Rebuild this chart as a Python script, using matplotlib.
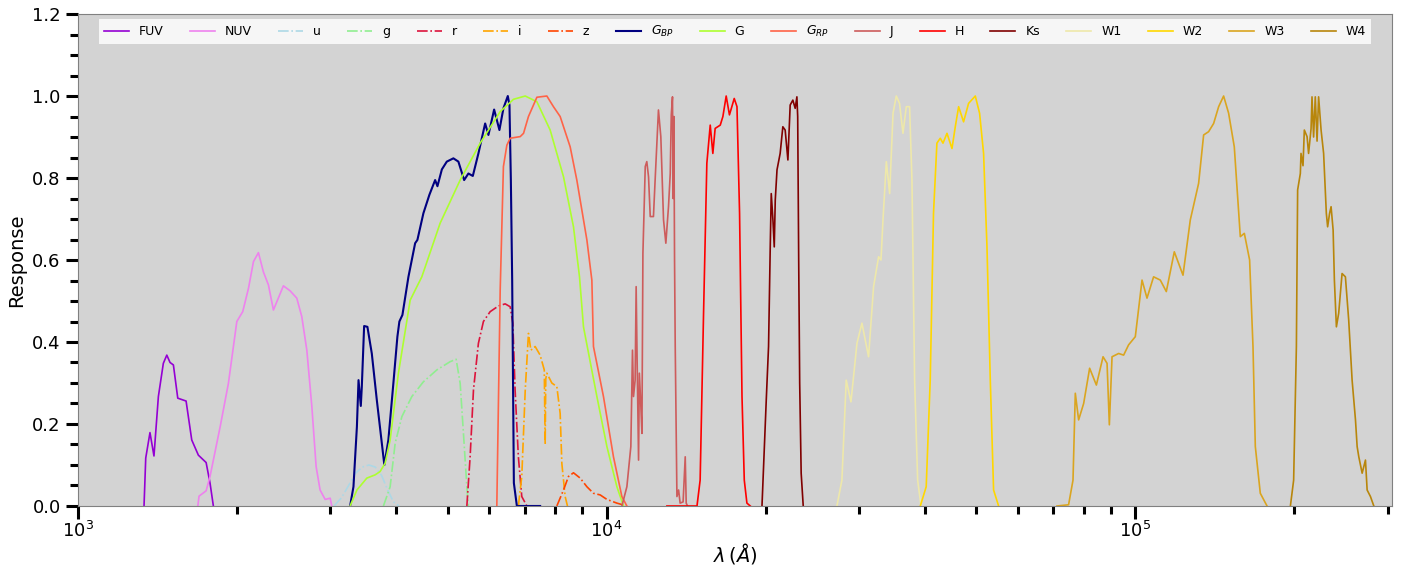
# -*- coding: utf-8 -*-
##=========================================================
# Filter transmission curves, UV to mid-IR
##=========================================================

import numpy as np
import matplotlib
matplotlib.use('Agg')
import matplotlib.pyplot as plt
import matplotlib.ticker as ticker

##===========================================
# Curves (wavelength in Angstrom, response)
##===========================================
fuv_wl = [1333, 1343, 1368, 1392, 1419, 1450, 1472, 1493, 1515, 1544, 1601, 1641,
          1689, 1747, 1777, 1803]
fuv_r = [0.0, 0.117, 0.179, 0.122, 0.267, 0.348, 0.368, 0.35, 0.344, 0.263, 0.256,
         0.161, 0.124, 0.106, 0.056, 0.0]

nuv_wl = [1685, 1694, 1747, 1777, 1857, 1925, 1997, 2049, 2101, 2147, 2194, 2242,
          2292, 2342, 2446, 2518, 2593, 2650, 2709, 2769, 2821, 2870, 2934, 2999, 3020]
nuv_r = [0.0, 0.024, 0.037, 0.072, 0.193, 0.299, 0.45, 0.474, 0.531, 0.596, 0.618,
         0.571, 0.539, 0.478, 0.537, 0.525, 0.507, 0.462, 0.38, 0.242, 0.096, 0.039,
         0.016, 0.019, 0.0]

u_wl = [3050, 3150, 3250, 3350, 3450, 3550, 3650, 3750, 3850, 3950, 4050]
u_r = [0.0, 0.02, 0.05, 0.08, 0.095, 0.1, 0.095, 0.075, 0.04, 0.01, 0.0]

g_wl = [3782, 3894, 3980, 4098, 4280, 4501, 4773, 5057, 5191, 5283, 5359, 5439, 5476]
g_r = [0.0, 0.047, 0.153, 0.218, 0.267, 0.303, 0.332, 0.352, 0.358, 0.299, 0.177,
       0.047, 0.0]

r_wl = [5439, 5517, 5598, 5720, 5846, 6020, 6243, 6427, 6568, 6645, 6711, 6807,
        6909, 7063]
r_r = [0.0, 0.12, 0.283, 0.397, 0.45, 0.474, 0.488, 0.493, 0.486, 0.446, 0.283,
       0.12, 0.023, 0.0]

i_wl = [6807, 6909, 7014, 7113, 7188, 7323, 7484, 7620, 7650, 7670, 7706, 7875,
        8049, 8166, 8226, 8346, 8430]
i_r = [0.0, 0.072, 0.283, 0.421, 0.38, 0.389, 0.368, 0.332, 0.15, 0.31, 0.324, 0.3,
       0.291, 0.226, 0.104, 0.023, 0.0]

z_wl = [8049, 8286, 8468, 8654, 8910, 9174, 9441, 9721, 10010, 10455, 10920]
z_r = [0.0, 0.039, 0.072, 0.081, 0.068, 0.047, 0.031, 0.027, 0.016, 0.007, 0.0]

gbp_wl = [3271, 3319, 3369, 3393, 3427, 3442, 3477, 3527, 3595, 3674, 3797, 3864,
          3949, 4019, 4054, 4108, 4217, 4342, 4385, 4501, 4620, 4737, 4785, 4878,
          4984, 5129, 5242, 5375, 5476, 5582, 5720, 5890, 5975, 6125, 6268, 6378,
          6501, 6548, 6588, 6626, 6675, 6763, 7484]
gbp_r = [0.0, 0.047, 0.193, 0.307, 0.244, 0.291, 0.439, 0.437, 0.372, 0.259, 0.1,
         0.161, 0.299, 0.413, 0.45, 0.466, 0.559, 0.641, 0.649, 0.714, 0.759, 0.795,
         0.78, 0.821, 0.84, 0.848, 0.84, 0.795, 0.811, 0.805, 0.86, 0.933, 0.905,
         0.967, 0.917, 0.97, 1.0, 0.978, 0.795, 0.551, 0.056, 0.0, 0.0]

g_gaia_wl = [3271, 3369, 3518, 3648, 3727, 3809, 3894, 4037, 4249, 4470, 4842, 5283,
             5764, 6289, 6664, 7014, 7379, 7818, 8286, 8654, 8884, 9039, 9583, 10010,
             10455, 10760]
g_gaia_r = [0.0, 0.039, 0.068, 0.076, 0.084, 0.104, 0.161, 0.324, 0.502, 0.559, 0.69,
            0.795, 0.885, 0.962, 0.992, 1.0, 0.986, 0.917, 0.803, 0.681, 0.559, 0.437,
            0.267, 0.145, 0.047, 0.0]

grp_wl = [6197, 6289, 6378, 6474, 6568, 6862, 6962, 7113, 7379, 7706, 7931, 8166,
          8530, 8781, 9174, 9375, 9441, 9861, 10300, 10685, 10920]
grp_r = [0.0, 0.527, 0.828, 0.88, 0.897, 0.901, 0.909, 0.95, 0.997, 1.0, 0.974, 0.95,
         0.876, 0.795, 0.649, 0.551, 0.389, 0.267, 0.12, 0.023, 0.0]

j_wl = [10685, 10920, 11110, 11190, 11240, 11320, 11370, 11420, 11490, 11530, 11600,
        11660, 11710, 11830, 11910, 12000, 12090, 12260, 12350, 12530, 12660, 12810,
        12940, 13090, 13190, 13250, 13320, 13360, 13400, 13440, 13480, 13580, 13680,
        13770, 13950, 14080, 14140, 14220]
j_r = [0.0, 0.047, 0.145, 0.38, 0.267, 0.307, 0.535, 0.35, 0.112, 0.324, 0.25, 0.177,
       0.616, 0.828, 0.84, 0.803, 0.706, 0.706, 0.795, 0.966, 0.901, 0.698, 0.641,
       0.73, 0.811, 0.954, 0.998, 0.75, 0.95, 0.6, 0.389, 0.023, 0.039, 0.007, 0.01,
       0.12, 0.007, 0.0]

h_wl = [13000, 14820, 15025, 15250, 15470, 15700, 15880, 16040, 16400, 16590, 16830,
        17070, 17250, 17430, 17640, 17840, 17950, 18030, 18210, 18420, 18690]
h_r = [0.0, 0.0, 0.063, 0.47, 0.836, 0.929, 0.86, 0.921, 0.929, 0.95, 1.0, 0.954,
       0.974, 0.994, 0.974, 0.714, 0.454, 0.267, 0.063, 0.007, 0.0]

ks_wl = [19670, 20040, 20240, 20390, 20480, 20630, 20750, 20840, 21000, 21290, 21540,
         21760, 22020, 22240, 22500, 22730, 22900, 22980, 23080, 23180, 23330, 23540]
ks_r = [0.0, 0.259, 0.389, 0.632, 0.762, 0.698, 0.632, 0.746, 0.82, 0.86, 0.925,
        0.917, 0.844, 0.978, 0.99, 0.97, 0.998, 0.95, 0.6, 0.3, 0.08, 0.0]

w1_wl = [27260, 27860, 28390, 28980, 29750, 30400, 31290, 31980, 32690, 33030, 33320,
         33810, 34300, 34810, 35310, 35810, 36350, 36880, 37410, 37800, 38240, 38750,
         39320]
w1_r = [0.0, 0.063, 0.307, 0.254, 0.397, 0.446, 0.364, 0.535, 0.608, 0.6, 0.698,
        0.84, 0.762, 0.958, 1.0, 0.982, 0.909, 0.974, 0.974, 0.795, 0.307, 0.063, 0.0]

w2_wl = [39200, 40220, 40930, 41520, 42140, 42760, 43270, 44030, 45000, 45650, 46320,
         47330, 48370, 49810, 50750, 51640, 52410, 53170, 53940, 55130]
w2_r = [0.0, 0.047, 0.307, 0.714, 0.885, 0.897, 0.885, 0.909, 0.872, 0.925, 0.974,
        0.937, 0.982, 1.0, 0.958, 0.86, 0.632, 0.307, 0.039, 0.0]

w3_wl = [71100, 74780, 76230, 77000, 78120, 79850, 81960, 84400, 86890, 88420, 89310,
         90360, 92990, 95040, 97120, 100000, 102970, 105220, 108290, 111500, 114460,
         118510, 123090, 127070, 131750, 134660, 137610, 140650, 143760, 146910,
         150150, 153900, 157990, 160780, 164520, 166960, 168660, 172360, 177480]
w3_r = [0.0, 0.003, 0.063, 0.275, 0.21, 0.25, 0.336, 0.295, 0.364, 0.348, 0.198,
        0.364, 0.372, 0.368, 0.393, 0.413, 0.551, 0.507, 0.559, 0.551, 0.523, 0.62,
        0.563, 0.698, 0.787, 0.905, 0.913, 0.933, 0.974, 1.0, 0.958, 0.876, 0.657,
        0.665, 0.6, 0.389, 0.145, 0.031, 0.0]

w4_wl = [196500, 199300, 201700, 202800, 205200, 205800, 207600, 208800, 211300,
         212700, 215000, 215900, 217400, 219000, 220700, 222200, 224600, 227100,
         229800, 231100, 233100, 234600, 236700, 238000, 240100, 242500, 246100,
         249700, 253300, 257100, 260900, 262800, 264700, 268600, 272500, 274500,
         278500, 282600]
w4_r = [0.0, 0.063, 0.389, 0.771, 0.811, 0.86, 0.83, 0.917, 0.901, 0.86, 0.92, 0.998,
        0.9, 0.998, 0.89, 0.998, 0.917, 0.86, 0.714, 0.681, 0.714, 0.73, 0.673, 0.551,
        0.437, 0.47, 0.567, 0.559, 0.454, 0.307, 0.21, 0.145, 0.12, 0.08, 0.112, 0.039,
        0.023, 0.0]

labels = ['FUV', 'NUV', 'u', 'g', 'r', 'i', 'z', r'$G_{BP}$', 'G', r'$G_{RP}$',
          'J', 'H', 'Ks', 'W1', 'W2', 'W3', 'W4']
colors = ['darkviolet', 'violet', 'lightblue', 'lightgreen', 'crimson', 'orange',
          'orangered', 'navy', 'greenyellow', 'tomato', 'indianred', 'red', 'maroon',
          'palegoldenrod', 'gold', 'goldenrod', 'darkgoldenrod']
styles = ['-', '-', '-.', '-.', '-.', '-.', '-.', '-', '-', '-', '-', '-', '-',
          '-', '-', '-', '-']

curves = [(fuv_wl, fuv_r), (nuv_wl, nuv_r), (u_wl, u_r), (g_wl, g_r), (r_wl, r_r),
          (i_wl, i_r), (z_wl, z_r), (gbp_wl, gbp_r), (g_gaia_wl, g_gaia_r),
          (grp_wl, grp_r), (j_wl, j_r), (h_wl, h_r), (ks_wl, ks_r), (w1_wl, w1_r),
          (w2_wl, w2_r), (w3_wl, w3_r), (w4_wl, w4_r)]

##===========================================
# Plot
##===========================================
fig = plt.figure(figsize=(14.06, 5.7), dpi=100)
ax = fig.add_axes([0.0555, 0.1123, 0.9346, 0.8631])
ax.set_facecolor('lightgray')

for (wl, resp), lab, c, ls in zip(curves, labels, colors, styles):
    lw = 1.5 if lab == r'$G_{BP}$' else 1.2
    ax.plot(wl, resp, color=c, ls=ls, lw=lw, label=lab)

ax.set_xscale('log')
ax.set_xlim(1000, 3.06e5)
ax.set_ylim(0, 1.2)
ax.yaxis.set_major_locator(ticker.MultipleLocator(0.2))
ax.yaxis.set_minor_locator(ticker.MultipleLocator(0.05))
ax.yaxis.set_major_formatter(ticker.FormatStrFormatter('%.1f'))

ax.tick_params(which='major', length=9, width=2.2, labelsize=13, color='black')
ax.tick_params(which='minor', length=5.5, width=2.2, color='black')
ax.tick_params(axis='x', which='major', pad=2)
for s in ax.spines.values():
    s.set_color('gray')

ax.set_xlabel(r'$\lambda\,(Å)$', fontsize=14, labelpad=0)
ax.set_ylabel('Response', fontsize=14, labelpad=4)

ax.legend(loc='upper center', ncol=17, fontsize=9, frameon=True, fancybox=False,
          framealpha=0.8, edgecolor='none', borderaxespad=0.4, columnspacing=2.1)

plt.savefig('out.png', dpi=100)
